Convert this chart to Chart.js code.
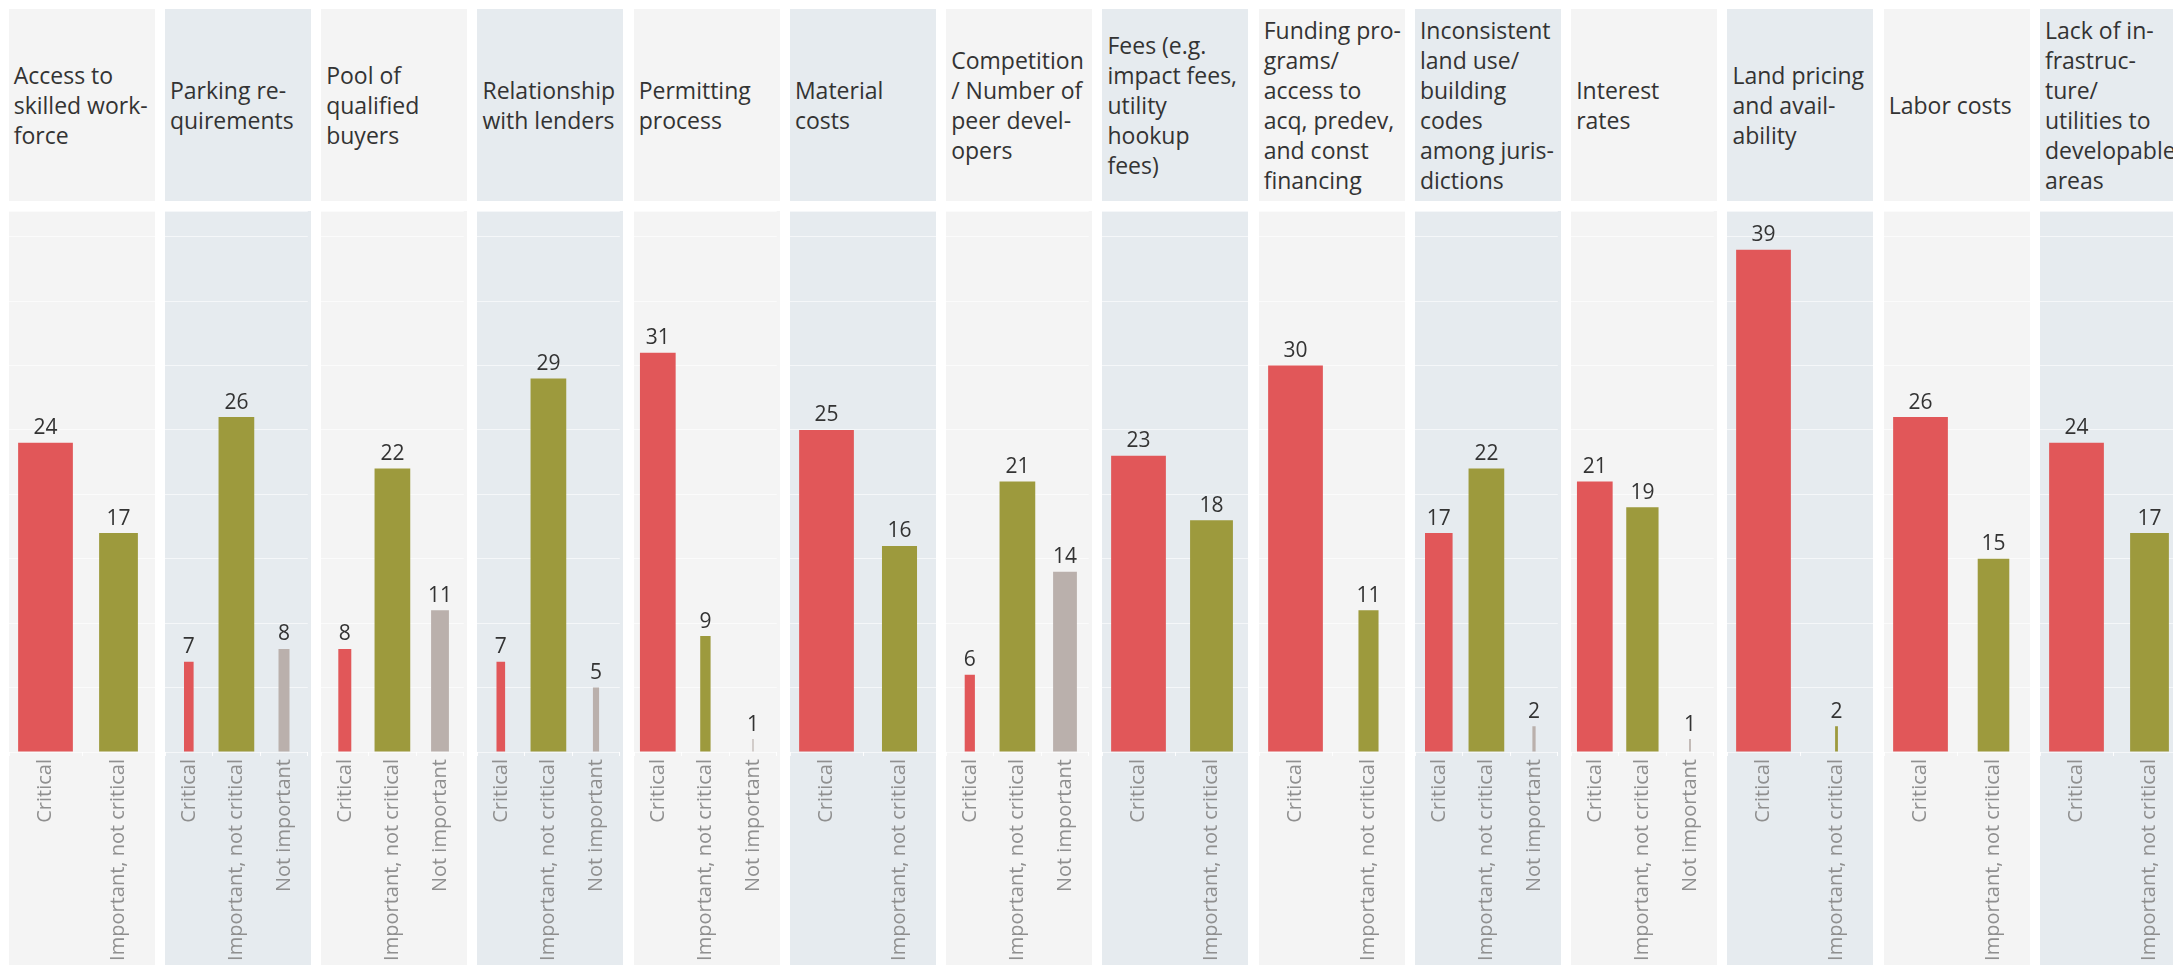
<!DOCTYPE html>
<html>
<head>
<meta charset="utf-8">
<script src="https://cdn.jsdelivr.net/npm/chart.js@4"></script>
<style>
  html, body { margin: 0; padding: 0; background: #fff; }
  body { width: 2173px; height: 965px; overflow: hidden; position: relative; font-family: "Open Sans", "Noto Sans", sans-serif; }
  .head, .plot { position: absolute; box-sizing: border-box; }
  .head {
    top: 9px; height: 192px; display: flex; align-items: center;
    padding-left: 5px; color: #333; font-size: 23px; line-height: 30px; white-space: nowrap;
  }
  .plot { top: 211px; height: 754px; }
  .plot canvas { display: block; }
</style>
</head>
<body>
<div id="wrap"></div>
<script>
// factors rated by developers, one small panel each
const factors = [
  'Access to<br>skilled work-<br>force',
  'Parking re-<br>quirements',
  'Pool of<br>qualified<br>buyers',
  'Relationship<br>with lenders',
  'Permitting<br>process',
  'Material<br>costs',
  'Competition<br>/ Number of<br>peer devel-<br>opers',
  'Fees (e.g.<br>impact fees,<br>utility<br>hookup<br>fees)',
  'Funding pro-<br>grams/<br>access to<br>acq, predev,<br>and const<br>financing',
  'Inconsistent<br>land use/<br>building<br>codes<br>among juris-<br>dictions',
  'Interest<br>rates',
  'Land pricing<br>and avail-<br>ability',
  'Labor costs',
  'Lack of in-<br>frastruc-<br>ture/<br>utilities to<br>developable<br>areas'
];

const ratings = ['Critical', 'Important, not critical', 'Not important'];

const critical     = [24, 7, 8, 7, 31, 25, 6, 23, 30, 17, 21, 39, 26, 24];
const important    = [17, 26, 22, 29, 9, 16, 21, 18, 11, 22, 19, 2, 15, 17];
const notImportant = [null, 8, 11, 5, 1, null, 14, null, null, 2, 1, null, null, null];

const colors = ['#e15759', '#9d9a3d', '#bab0ac'];
const panelBg = ['#f4f4f4', '#e6ebef'];

const yMax = 42;
const pitch = 156.25;
const panelW = 146;
const fontFamily = '"Open Sans", "Noto Sans", sans-serif';

// number above each bar
const valueLabels = {
  id: 'valueLabels',
  afterDatasetsDraw(chart) {
    const ctx = chart.ctx;
    ctx.save();
    ctx.font = '21px ' + fontFamily;
    ctx.fillStyle = '#333';
    ctx.textAlign = 'center';
    ctx.textBaseline = 'bottom';
    chart.data.datasets.forEach((ds, i) => {
      chart.getDatasetMeta(i).data.forEach((bar, j) => {
        if (ds.data[j] == null) return;
        ctx.fillText(ds.data[j], bar.x, bar.y - 4);
      });
    });
    ctx.restore();
  }
};

const wrap = document.getElementById('wrap');

factors.forEach((title, p) => {
  const left = 8.7 + p * pitch;
  const bg = panelBg[p % 2];

  const head = document.createElement('div');
  head.className = 'head';
  head.style.left = left + 'px';
  head.style.width = panelW + 'px';
  head.style.background = bg;
  head.innerHTML = '<div>' + title + '</div>';
  wrap.appendChild(head);

  const plot = document.createElement('div');
  plot.className = 'plot';
  plot.style.left = left + 'px';
  plot.style.width = panelW + 'px';
  plot.style.background = bg;
  const canvas = document.createElement('canvas');
  plot.appendChild(canvas);
  wrap.appendChild(plot);

  const vals = [critical[p], important[p], notImportant[p]];
  const cats = ratings.filter((r, k) => vals[k] != null);
  const maxVal = Math.max(...vals.filter(v => v != null));

  // one dataset per rating so each bar can get its own width (sized by count)
  const datasets = [];
  let idx = 0;
  vals.forEach((v, k) => {
    if (v == null) return;
    const data = cats.map(() => null);
    data[idx] = v;
    datasets.push({
      data: data,
      backgroundColor: colors[k],
      grouped: false,
      categoryPercentage: 1,
      barPercentage: 0.75 * v / maxVal
    });
    idx++;
  });

  new Chart(canvas, {
    type: 'bar',
    data: { labels: cats, datasets: datasets },
    plugins: [valueLabels],
    options: {
      responsive: true,
      maintainAspectRatio: false,
      animation: false,
      layout: { padding: 0 },
      plugins: { legend: { display: false }, tooltip: { enabled: false } },
      scales: {
        x: {
          border: { display: false },
          grid: { drawOnChartArea: false, color: 'rgba(255,255,255,0.9)', tickLength: 4 },
          ticks: {
            minRotation: 90, maxRotation: 90, autoSkip: false, padding: 3,
            color: '#8f8f8f', font: { family: fontFamily, size: 20 }
          },
          afterFit: (scale) => { scale.height = 213; }
        },
        y: {
          min: 0, max: yMax,
          border: { display: false },
          grid: { color: 'rgba(255,255,255,0.6)', drawTicks: false },
          ticks: { display: false, stepSize: 5 },
          afterFit: (scale) => { scale.width = 0; }
        }
      }
    }
  });
});
</script>
</body>
</html>
